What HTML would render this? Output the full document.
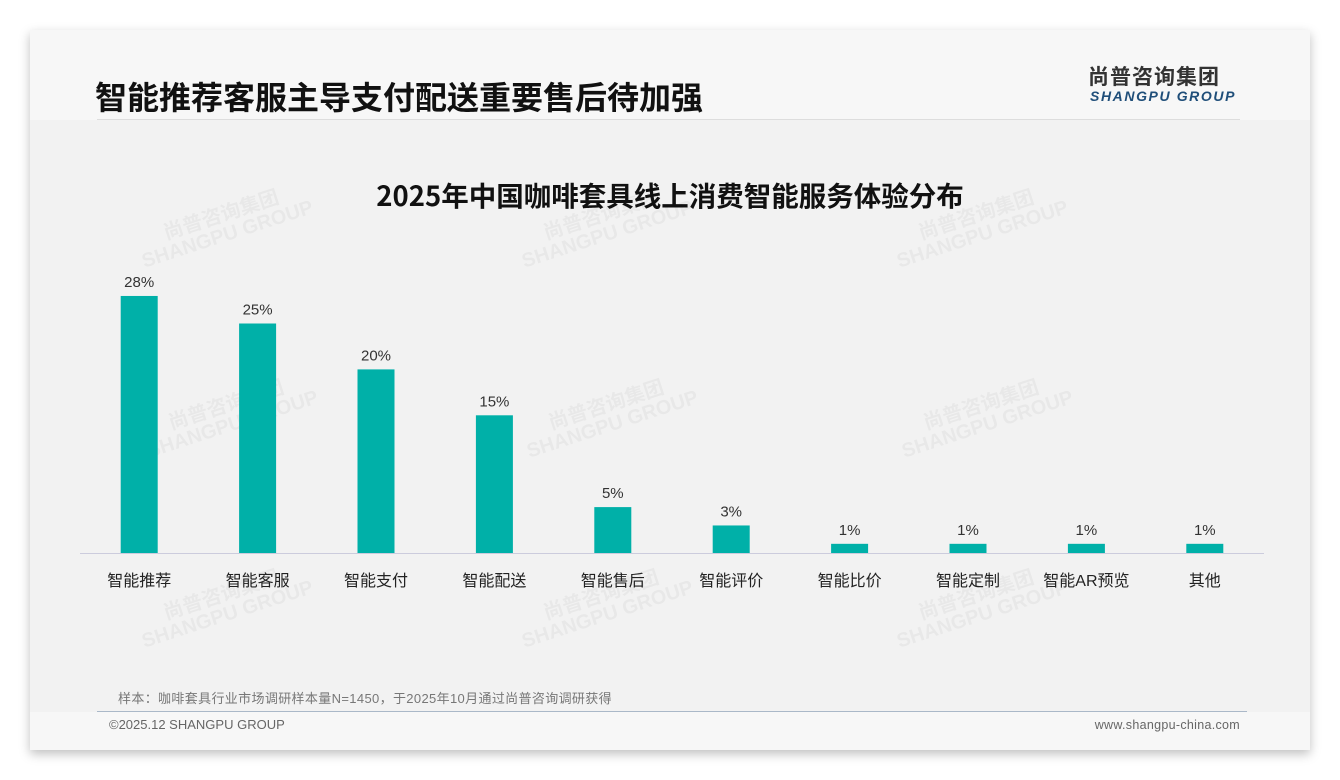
<!DOCTYPE html>
<html><head><meta charset="utf-8">
<style>
body{margin:0;width:1340px;height:780px;background:#fff;position:relative;overflow:hidden;font-family:"Liberation Sans","Noto Sans CJK SC",sans-serif;}
#card{position:absolute;left:30px;top:30px;width:1280px;height:720px;background:#f7f7f7;box-shadow:0 4px 10px rgba(0,0,0,0.25);}
#plotbg{position:absolute;left:30px;top:120px;width:1280px;height:592px;background:#f2f2f2;}
.t{position:absolute;white-space:nowrap;}
.wm{position:absolute;color:rgba(0,0,0,0.04);font-weight:bold;transform:rotate(-18deg);font-size:20px;line-height:20px;text-align:center}
</style></head><body>
<div id="card"></div>
<div id="plotbg"></div>
<div class="t" style="left:95px;top:76px;font-size:32px;font-weight:bold;color:#111;font-family:'Noto Sans CJK SC',sans-serif;line-height:40px">智能推荐客服主导支付配送重要售后待加强</div>
<div style="position:absolute;left:97px;top:119px;width:1143px;height:1px;background:#ddd"></div>
<div class="t" style="left:1088px;top:63px;font-size:21px;font-weight:bold;color:#333;letter-spacing:1px;font-family:'Noto Sans CJK SC',sans-serif;line-height:26px">尚普咨询集团</div>
<div class="t" style="left:1090px;top:88px;font-size:14px;font-weight:bold;font-style:italic;color:#1f4e79;letter-spacing:1.6px">SHANGPU GROUP</div>
<div class="t" style="left:0;width:1340px;text-align:center;top:177px;font-size:27.5px;font-weight:bold;color:#111;font-family:'Noto Sans CJK SC',sans-serif;line-height:34px">2025年中国咖啡套具线上消费智能服务体验分布</div>
<div class="wm" style="left:135px;top:205px">尚普咨询集团<br>SHANGPU GROUP</div>
<div class="wm" style="left:515px;top:205px">尚普咨询集团<br>SHANGPU GROUP</div>
<div class="wm" style="left:890px;top:205px">尚普咨询集团<br>SHANGPU GROUP</div>
<div class="wm" style="left:140px;top:395px">尚普咨询集团<br>SHANGPU GROUP</div>
<div class="wm" style="left:520px;top:395px">尚普咨询集团<br>SHANGPU GROUP</div>
<div class="wm" style="left:895px;top:395px">尚普咨询集团<br>SHANGPU GROUP</div>
<div class="wm" style="left:135px;top:585px">尚普咨询集团<br>SHANGPU GROUP</div>
<div class="wm" style="left:515px;top:585px">尚普咨询集团<br>SHANGPU GROUP</div>
<div class="wm" style="left:890px;top:585px">尚普咨询集团<br>SHANGPU GROUP</div>
<svg id="chart" width="1340" height="780" style="position:absolute;left:0;top:0" font-family="Liberation Sans, Noto Sans CJK SC, sans-serif"></svg>
<div class="t" style="left:118px;top:688px;font-size:13px;letter-spacing:0.35px;color:#777">样本：咖啡套具行业市场调研样本量N=1450，于2025年10月通过尚普咨询调研获得</div>
<div style="position:absolute;left:97px;top:711px;width:1150px;height:1px;background:#aab8c8"></div>
<div class="t" style="left:109px;top:717px;font-size:13px;color:#666">©2025.12 SHANGPU GROUP</div>
<div class="t" style="right:100px;top:718px;font-size:12.5px;letter-spacing:0.3px;color:#666">www.shangpu-china.com</div>
<script>
const categories=["智能推荐","智能客服","智能支付","智能配送","智能售后","智能评价","智能比价","智能定制","智能AR预览","其他"];
const values=[28,25,20,15,5,3,1,1,1,1];
const labels=["28%","25%","20%","15%","5%","3%","1%","1%","1%","1%"];
const svg=document.getElementById('chart');
const NS='http://www.w3.org/2000/svg';
const x0=80,x1=1264,base=553,scale=9.18;
const band=(x1-x0)/categories.length;
const xc=i=>x0+band*(i+0.5);
const y=v=>base-v*scale;
function mk(t,a){const e=document.createElementNS(NS,t);for(const k in a)e.setAttribute(k,a[k]);svg.appendChild(e);return e;}
categories.forEach((c,i)=>{
  const r=mk('rect',{x:xc(i)-18.5,y:y(values[i]),width:37,height:base-y(values[i]),fill:'#00b0a8'});
  
  
  const l=mk('text',{x:xc(i),y:y(values[i])-9,'text-anchor':'middle','font-size':15,fill:'#333'});
  l.textContent=labels[i];
  
  
  const t=mk('text',{x:xc(i),y:586,'text-anchor':'middle','font-size':16,fill:'#222'});
  t.textContent=c;
  
  
});
const ax=mk('line',{x1:x0,x2:x1,y1:base+0.5,y2:base+0.5,stroke:'#ccd',"stroke-width":1});


</script>
</body></html>
